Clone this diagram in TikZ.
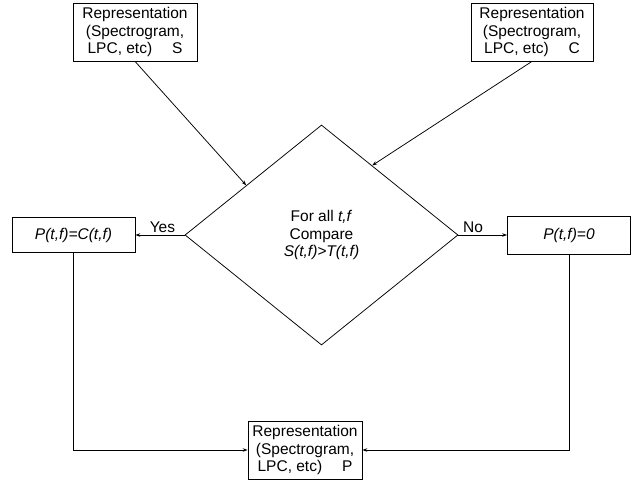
\documentclass[tikz,border=0pt]{standalone}
\usepackage{fontspec}
\setmainfont{Liberation Sans}
\usetikzlibrary{shapes.geometric,arrows.meta,calc}

\tikzset{
  reprbox/.style={draw,align=center,inner sep=0pt,minimum height=58pt},
  valbox/.style={draw,inner sep=0pt,minimum width=123pt,minimum height=35pt},
  decision/.style={draw,diamond,inner sep=0pt,align=center,minimum width=273pt,minimum height=220pt},
  flow/.style={-{Stealth[length=5pt,width=3.5pt]}}
}

\begin{document}
\begin{tikzpicture}[x=1pt,y=-1pt,line width=0.75pt,font=\fontsize{15.5}{17.5}\selectfont]
        \useasboundingbox (0,0) rectangle (635,480);
        % inputs
        \node[reprbox,minimum width=124pt] (s) at (135,32) {Representation\\(Spectrogram,\\LPC, etc)\quad\ S};
        \node[reprbox,minimum width=122pt] (c) at (532,32) {Representation\\(Spectrogram,\\LPC, etc)\quad\ C};
        % test
        \node[decision] (dia) at (321.5,235) {For all \textit{t,f}\\Compare\\\textit{S(t,f)>T(t,f)}};
        \draw[flow] (s.south) -- ($(dia.north)!0.55!(dia.west)$);
        \draw[flow] (c.south) -- ($(dia.north)!0.37!(dia.east)$);
        % outcomes
        \node[valbox] (yes) at (73.5,235) {\textit{P(t,f)=C(t,f)}};
        \node[valbox,minimum height=38pt] (no) at (569,235) {\textit{P(t,f)=0}};
        \draw[flow] (dia.west) -- node[above,inner sep=2pt,pos=0.45] {Yes} (yes.east);
        \draw[flow] (dia.east) -- node[above,inner sep=2pt,pos=0.3] {No} (no.west);
        % result
        \node[reprbox,minimum width=114pt] (p) at (305,450) {Representation\\(Spectrogram,\\LPC, etc)\quad\ P};
        \draw[flow] (yes.south) |- (p.west);
        \draw[flow] (no.south) |- (p.east);
    \end{tikzpicture}
\end{document}
